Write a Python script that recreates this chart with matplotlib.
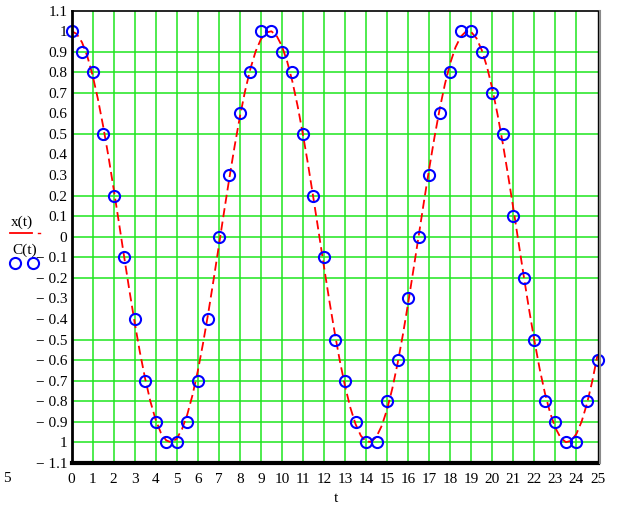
import matplotlib
matplotlib.use("Agg")
import matplotlib.pyplot as plt
from matplotlib.lines import Line2D

plt.rcParams["font.family"] = ["Liberation Serif", "DejaVu Serif"]

# sampled signal C(t), every 0.5 s
t_samples = [i * 0.5 for i in range(51)]
c_values = [1, 0.9, 0.8, 0.5, 0.2, -0.1, -0.4, -0.7, -0.9, -1, -1,
            -0.9, -0.7, -0.4, 0, 0.3, 0.6, 0.8, 1, 1, 0.9,
            0.8, 0.5, 0.2, -0.1, -0.5, -0.7, -0.9, -1, -1, -0.8,
            -0.6, -0.3, 0, 0.3, 0.6, 0.8, 1, 1, 0.9, 0.7,
            0.5, 0.1, -0.2, -0.5, -0.8, -0.9, -1, -1, -0.8, -0.6]

# continuous signal x(t), every 0.25 s
t_curve = [i * 0.25 for i in range(101)]
x_values = [1.000, 0.986, 0.945, 0.878, 0.786, 0.672, 0.540, 0.394, 0.235, 0.071,
            -0.096, -0.260, -0.416, -0.561, -0.690, -0.801, -0.890, -0.954, -0.990, -1.000,
            -0.982, -0.936, -0.865, -0.770, -0.654, -0.519, -0.371, -0.211, -0.046, 0.121,
            0.284, 0.439, 0.582, 0.709, 0.816, 0.901, 0.960, 0.993, 0.999, 0.977,
            0.927, 0.852, 0.754, 0.634, 0.497, 0.347, 0.186, 0.021, -0.146, -0.308,
            -0.461, -0.602, -0.726, -0.830, -0.911, -0.967, -0.996, -0.997, -0.971, -0.918,
            -0.839, -0.737, -0.615, -0.476, -0.323, -0.161, 0.004, 0.170, 0.331, 0.483,
            0.622, 0.743, 0.844, 0.921, 0.973, 0.998, 0.995, 0.965, 0.907, 0.825,
            0.720, 0.594, 0.453, 0.299, 0.137, -0.029, -0.195, -0.355, -0.505, -0.642,
            -0.760, -0.857, -0.930, -0.978, -0.999, -0.992, -0.958, -0.897, -0.811, -0.703,
            -0.575]

x_ticks = list(range(26))
y_ticks = [round(-1.1 + 0.1 * i, 1) for i in range(23)]
y_labels = ["\u2212 1.1", "1", "\u2212 0.9", "\u2212 0.8", "\u2212 0.7", "\u2212 0.6",
            "\u2212 0.5", "\u2212 0.4", "\u2212 0.3", "\u2212 0.2", "\u2212 0.1", "0",
            "0.1", "0.2", "0.3", "0.4", "0.5", "0.6", "0.7", "0.8", "0.9", "1", "1.1"]
h_grid = [0.9, 0.8, 0.7, 0.5, 0.2, 0.1, 0, -0.1, -0.2, -0.5, -0.6, -0.7, -0.8, -0.9, -1]
v_grid = list(range(1, 25))

fig = plt.figure(figsize=(6.17, 5.08), dpi=100)
ax = fig.add_axes([0.1159, 0.0886, 0.8525, 0.8907])
ax.set_xlim(0, 25)
ax.set_ylim(-1.1, 1.1)

grid_color = "#1ee61e"
for v in v_grid:
    ax.axvline(v, color=grid_color, lw=1.1, zorder=1)
for h in h_grid:
    ax.axhline(h, color=grid_color, lw=1.1, zorder=1)

ax.plot(t_curve, x_values, color="red", lw=1.3, dashes=(5, 2.5), zorder=2)
ax.plot(t_samples, c_values, ls="none", marker="o", ms=8, mfc="none",
        mec="blue", mew=1.5, zorder=3, clip_on=False)

ax.set_xticks(x_ticks)
ax.set_xticklabels([str(v) for v in x_ticks])
ax.set_yticks(y_ticks)
ax.set_yticklabels(y_labels)
ax.tick_params(length=0, labelsize=11)
ax.tick_params(axis="x", pad=7)
ax.tick_params(axis="y", pad=3)

ax.spines["top"].set_linewidth(1.2)
ax.spines["left"].set_linewidth(2.0)
ax.spines["bottom"].set_linewidth(3.0)
ax.spines["right"].set_linewidth(1.0)
for s in ax.spines.values():
    s.set_color("black")
    s.set_zorder(4)

# shadow along the right edge
fig.add_artist(Line2D([599.5 / 617, 599.5 / 617], [1 - 10.5 / 508, 1 - 463 / 508],
                      color="#8a8a8a", lw=1.5))

# legend labels on the left
fig.text(22 / 617, 1 - 222 / 508, "x(t)", ha="center", va="center", fontsize=11)
fig.add_artist(Line2D([10 / 617, 32 / 617], [1 - 233 / 508, 1 - 233 / 508],
                      color="red", lw=1.3))
fig.add_artist(Line2D([38 / 617, 40 / 617], [1 - 233 / 508, 1 - 233 / 508],
                      color="red", lw=1.0))
fig.text(25 / 617, 1 - 250 / 508, "C(t)", ha="center", va="center", fontsize=11)
fig.add_artist(Line2D([15 / 617, 33 / 617], [1 - 263 / 508, 1 - 263 / 508],
                      ls="none", marker="o", ms=8, mfc="none", mec="blue", mew=1.5))

fig.text(336 / 617, 1 - 498 / 508, "t", ha="center", va="center", fontsize=11)
fig.text(7 / 617, 1 - 478 / 508, "5", ha="center", va="center", fontsize=11)

fig.savefig("out.png", dpi=100)
